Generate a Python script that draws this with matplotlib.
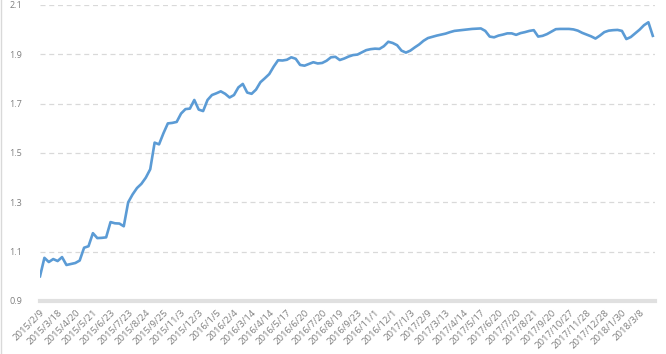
import matplotlib
matplotlib.use("Agg")
from matplotlib import pyplot as plt
from matplotlib.lines import Line2D
import numpy as np

# tick labels shown on the category axis (one every 4 samples)
date_labels = ['2015/2/9', '2015/3/18', '2015/4/20', '2015/5/21', '2015/6/23', '2015/7/23',
               '2015/8/24', '2015/9/25', '2015/11/3', '2015/12/3', '2016/1/5', '2016/2/4',
               '2016/3/14', '2016/4/14', '2016/5/17', '2016/6/20', '2016/7/20', '2016/8/19',
               '2016/9/23', '2016/11/1', '2016/12/1', '2017/1/3', '2017/2/9', '2017/3/13',
               '2017/4/14', '2017/5/17', '2017/6/20', '2017/7/20', '2017/8/21', '2017/9/20',
               '2017/10/27', '2017/11/28', '2017/12/28', '2018/1/30', '2018/3/8']

# net value
nav = [1.00, 1.075, 1.058, 1.07, 1.062, 1.078, 1.046, 1.05, 1.054, 1.064,
       1.116, 1.122, 1.175, 1.155, 1.156, 1.158, 1.22, 1.215, 1.214, 1.203,
       1.30, 1.332, 1.358, 1.375, 1.40, 1.434, 1.542, 1.535, 1.58, 1.62,
       1.622, 1.626, 1.66, 1.678, 1.68, 1.715, 1.676, 1.67, 1.715, 1.735,
       1.742, 1.75, 1.74, 1.725, 1.735, 1.766, 1.78, 1.745, 1.74, 1.757,
       1.787, 1.803, 1.82, 1.85, 1.876, 1.875, 1.878, 1.888, 1.882, 1.857,
       1.854, 1.861, 1.868, 1.863, 1.865, 1.874, 1.888, 1.89, 1.877, 1.883,
       1.891, 1.897, 1.899, 1.908, 1.917, 1.921, 1.923, 1.922, 1.933, 1.951,
       1.946, 1.937, 1.915, 1.907, 1.915, 1.928, 1.94, 1.955, 1.966, 1.971,
       1.976, 1.98, 1.984, 1.99, 1.995, 1.997, 1.999, 2.001, 2.003, 2.004,
       2.005, 1.995, 1.972, 1.969, 1.976, 1.98, 1.985, 1.985, 1.979, 1.986,
       1.99, 1.995, 1.998, 1.972, 1.975, 1.982, 1.992, 2.002, 2.003, 2.003,
       2.003, 2.001, 1.996, 1.987, 1.98, 1.973, 1.964, 1.976, 1.99, 1.996,
       1.998, 1.999, 1.995, 1.962, 1.97, 1.985, 2.0, 2.018, 2.03, 1.975]

yticks = [0.9, 1.1, 1.3, 1.5, 1.7, 1.9, 2.1]

plt.rcParams['font.family'] = ['Open Sans', 'DejaVu Sans']

fig = plt.figure(figsize=(6.66, 3.54), dpi=100)
ax = fig.add_axes([40 / 666, 1 - 301 / 354, 615 / 666, 296 / 354])

x = np.arange(len(nav))
ax.plot(x, nav, color='#5B9BD5', lw=1.9, solid_joinstyle='round')

ax.set_ylim(0.9, 2.1)
ax.set_xlim(0, 139.5)
ax.set_yticks(yticks)
ax.set_yticklabels(['%.1f' % v for v in yticks])
for v in yticks[1:]:
    ax.axhline(v, color='#D9D9D9', lw=0.9, ls=(0, (4, 3)), zorder=0)
ax.axhline(0.9, color='#E0E0E0', lw=3, zorder=1, clip_on=False)

ax.set_xticks(np.arange(0, 4 * len(date_labels), 4))
ax.set_xticklabels(date_labels, rotation=45, ha='right', va='top',
                   rotation_mode='anchor')

for s in ax.spines.values():
    s.set_visible(False)
ax.tick_params(axis='y', length=0, pad=13, labelsize=6.5, labelcolor='#7F7F7F')
ax.tick_params(axis='x', length=0, pad=5, labelsize=6.8, labelcolor='#7F7F7F')

# chart border on the left
fig.add_artist(Line2D([1 / 666, 1 / 666], [0, 1], color='#D9D9D9', lw=1))

fig.savefig('out.png', dpi=100)
